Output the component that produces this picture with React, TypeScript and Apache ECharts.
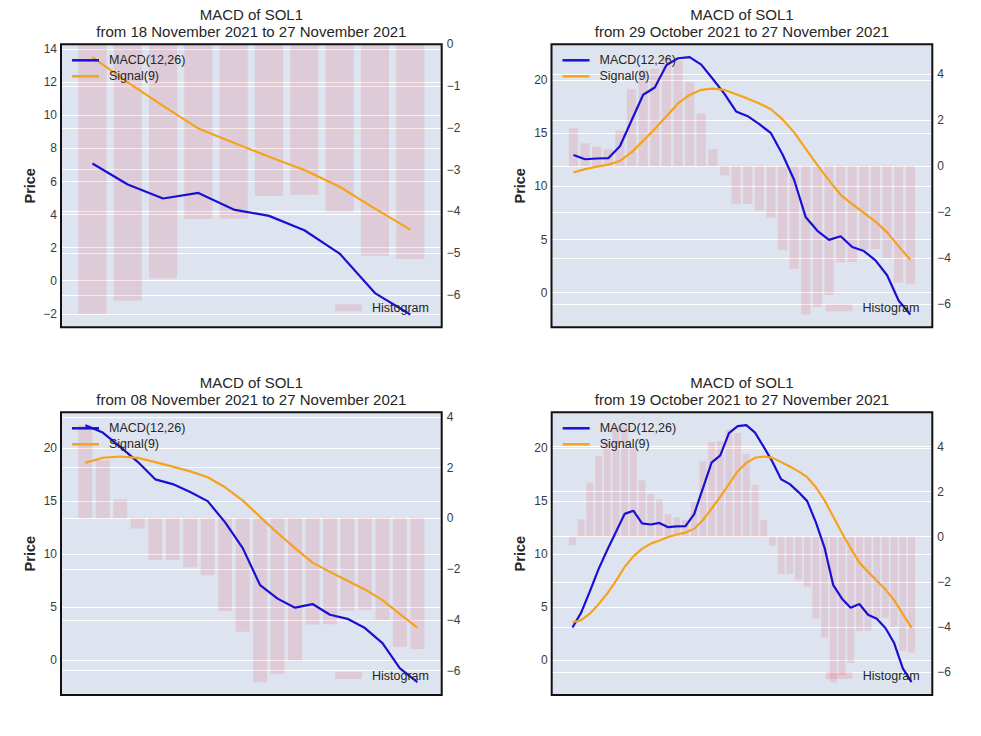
import React, { useEffect, useRef } from 'react';
import * as echarts from 'echarts';

// Full daily series, 19 Oct 2021 .. 27 Nov 2021 (40 days)
const macd = [3.1, 4.5, 6.5, 8.6, 10.4, 12.1, 13.8, 14.1, 12.9, 12.8,
  12.95, 12.55, 12.62, 12.65, 13.78, 16.2, 18.62, 19.3, 21.4, 22.05,
  22.15, 21.45, 20.1, 18.7, 17.05, 16.6, 15.85, 15.0, 13.0, 10.6,
  7.09, 5.82, 4.97, 5.31, 4.3, 3.92, 3.05, 1.64, -0.75, -2.04];
const signal = [3.6, 3.8, 4.4, 5.3, 6.3, 7.5, 8.8, 9.8, 10.5, 11.0,
  11.3, 11.62, 11.86, 12.04, 12.4, 13.2, 14.3, 15.4, 16.6, 17.8,
  18.6, 19.08, 19.2, 19.07, 18.67, 18.25, 17.8, 17.25, 16.3, 15.07,
  13.52, 12.0, 10.57, 9.21, 8.34, 7.5, 6.69, 5.68, 4.36, 3.09];
const histogram = [-0.38, 0.78, 2.4, 3.58, 4.25, 4.95, 4.9, 3.95, 2.5, 1.9,
  1.66, 1.0, 0.86, 0.75, 1.55, 3.35, 4.2, 4.25, 4.75, 4.6,
  3.67, 2.3, 0.75, -0.4, -1.64, -1.64, -1.93, -2.24, -3.65, -4.47,
  -6.45, -6.13, -5.6, -4.18, -4.17, -3.63, -3.6, -4.0, -5.06, -5.14];

// Panels: top-left, top-right, bottom-left, bottom-right
const panelDays = [10, 30, 20, 40];
const panelStart = ['18 November 2021', '29 October 2021', '08 November 2021', '19 October 2021'];
const endDate = '27 November 2021';
const leftStep = [2, 5, 5, 5];
const rightStep = [1, 2, 2, 2];

const grids = [
  { left: 61, top: 44.3, width: 380.7, height: 283 },
  { left: 551.5, top: 44.3, width: 380.8, height: 283 },
  { left: 61, top: 412.3, width: 380.7, height: 282.7 },
  { left: 551.7, top: 412.3, width: 380.6, height: 282.7 },
];

const FONT = 'Liberation Sans, Arial, Helvetica, sans-serif';
const TXT = '#262626';
const BG = '#dee4ef';
const MACD_C = '#1a10d4';
const SIG_C = '#f5a21c';
const BAR_C = 'rgba(230,0,40,0.11)';

const fmt = (step: number) => (v: number) => {
  const k = v / step;
  if (Math.abs(k - Math.round(k)) > 1e-6) return '';
  const r = Math.round(k) * step;
  return r < 0 ? '\u2212' + Math.abs(r) : String(r);
};

function buildOption() {
  const xAxis: any[] = [];
  const yAxis: any[] = [];
  const series: any[] = [];
  const legend: any[] = [];
  const graphic: any[] = [];
  const grid: any[] = [];

  panelDays.forEach((n, p) => {
    const g = grids[p];
    const start = macd.length - n;
    const m = macd.slice(start);
    const s = signal.slice(start);
    const h = histogram.slice(start);

    grid.push({ ...g, show: true, backgroundColor: BG, borderWidth: 0 });

    const span = n - 1 + 0.8;
    const xmin = -0.4 - 0.05 * span;
    const xmax = n - 1 + 0.4 + 0.05 * span;
    xAxis.push({ gridIndex: p, type: 'value', min: xmin, max: xmax, show: false });

    const all = m.concat(s);
    const lo = Math.min(...all), hi = Math.max(...all);
    const lspan = hi - lo;
    const rlo = Math.min(0, ...h), rhi = Math.max(0, ...h);
    const rspan = rhi - rlo;
    const rmin = rlo === 0 ? 0 : rlo - 0.05 * rspan;
    const rmax = rhi === 0 ? 0 : rhi + 0.05 * rspan;

    const common = {
      gridIndex: p,
      type: 'value',
      axisLine: { show: false },
      axisTick: { show: false },
      splitLine: { show: true, lineStyle: { color: '#ffffff', width: 1.2 } },
    };
    yAxis.push({
      ...common,
      position: 'left',
      min: lo - 0.05 * lspan,
      max: hi + 0.05 * lspan,
      splitNumber: p === 0 ? 8 : 5,
      name: 'Price',
      nameLocation: 'middle',
      nameGap: 24,
      nameRotate: 90,
      nameTextStyle: { fontWeight: 'bold', fontSize: 14.5, color: TXT, fontFamily: FONT },
      axisLabel: { formatter: fmt(leftStep[p]), color: '#3a3a3a', fontSize: 12, fontFamily: FONT, margin: 4 },
    });
    yAxis.push({
      ...common,
      position: 'right',
      min: rmin,
      max: rmax,
      splitNumber: p === 0 ? 7 : 6,
      axisLabel: { formatter: fmt(rightStep[p]), color: '#3a3a3a', fontSize: 12, fontFamily: FONT, margin: 5 },
    });

    const bw = (0.8 * g.width) / (xmax - xmin);
    series.push({
      type: 'bar', name: 'Histogram', xAxisIndex: p, yAxisIndex: 2 * p + 1,
      data: h.map((v, i) => [i, v]), barWidth: bw,
      itemStyle: { color: BAR_C }, z: 1,
    });
    series.push({
      type: 'line', name: 'MACD(12,26)', xAxisIndex: p, yAxisIndex: 2 * p,
      data: m.map((v, i) => [i, v]), showSymbol: false, symbol: 'none',
      lineStyle: { color: MACD_C, width: 2.2 }, itemStyle: { color: MACD_C }, z: 3,
    });
    series.push({
      type: 'line', name: 'Signal(9)', xAxisIndex: p, yAxisIndex: 2 * p,
      data: s.map((v, i) => [i, v]), showSymbol: false, symbol: 'none',
      lineStyle: { color: SIG_C, width: 2.2 }, itemStyle: { color: SIG_C }, z: 3,
    });

    legend.push({
      orient: 'vertical', left: g.left + 11, top: g.top + 9.5, padding: 0,
      data: ['MACD(12,26)', 'Signal(9)'], icon: 'rect', itemWidth: 27, itemHeight: 2.5,
      itemGap: 3, selectedMode: false,
      textStyle: { fontSize: 12.5, color: TXT, fontFamily: FONT, padding: [0, 0, 0, 5] },
    });
    legend.push({
      orient: 'vertical', left: g.left + 274, top: g.top + g.height - 26, padding: 0,
      data: ['Histogram'], icon: 'rect', itemWidth: 27, itemHeight: 7, selectedMode: false,
      textStyle: { fontSize: 12.5, color: TXT, fontFamily: FONT, padding: [0, 0, 0, 5] },
    });

    const cx = g.left + g.width / 2;
    graphic.push({
      type: 'text', x: cx, y: g.top - 29.5, z: 50,
      style: { text: 'MACD of SOL1', textAlign: 'center', textVerticalAlign: 'middle', font: `15px ${FONT}`, fill: TXT },
    });
    graphic.push({
      type: 'text', x: cx, y: g.top - 12.5, z: 50,
      style: { text: `from ${panelStart[p]} to ${endDate}`, textAlign: 'center', textVerticalAlign: 'middle', font: `15px ${FONT}`, fill: TXT },
    });
    graphic.push({
      type: 'rect', z: 100,
      shape: { x: g.left, y: g.top, width: g.width, height: g.height },
      style: { fill: 'none', stroke: '#111111', lineWidth: 2 },
    });
  });

  return {
    animation: false,
    backgroundColor: '#ffffff',
    grid, xAxis, yAxis, series, legend, graphic,
  };
}

export default function App() {
  const ref = useRef<HTMLDivElement>(null);
  useEffect(() => {
    if (!ref.current) return;
    const chart = echarts.init(ref.current, undefined, { renderer: 'svg' });
    chart.setOption(buildOption() as any);
    return () => chart.dispose();
  }, []);
  return (
    <div
      ref={ref}
      style={{ position: 'absolute', left: 0, top: 0, width: 981, height: 736 }}
    />
  );
}
